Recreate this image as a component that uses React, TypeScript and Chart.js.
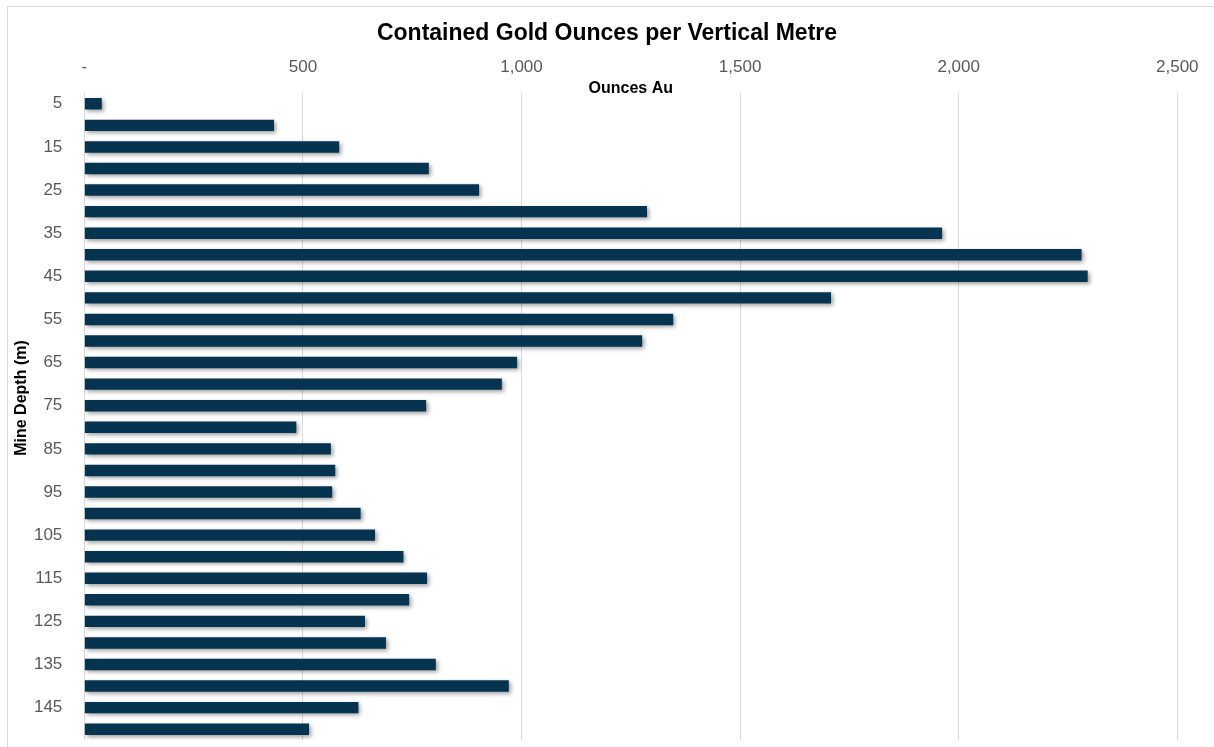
import React, { useEffect, useRef } from 'react';
import { Chart, registerables } from 'chart.js';

Chart.register(...registerables);

const chartTitle = 'Contained Gold Ounces per Vertical Metre';
const xAxisTitle = 'Ounces Au';
const yAxisTitle = 'Mine Depth (m)';

const depthLabels = [
  '5', '10', '15', '20', '25', '30', '35', '40', '45', '50',
  '55', '60', '65', '70', '75', '80', '85', '90', '95', '100',
  '105', '110', '115', '120', '125', '130', '135', '140', '145', '150',
];

const ouncesAu = [
  40, 434, 583, 788, 903, 1287, 1962, 2281, 2295, 1708,
  1347, 1276, 990, 955, 782, 485, 564, 574, 567, 632,
  665, 730, 784, 743, 642, 690, 804, 971, 627, 514,
];

const xMin = 0;
const xMax = 2500;
const xStep = 500;

const BAR_COLOR = '#06334F';
const GRID_COLOR = '#D9D9D9';
const TICK_COLOR = '#595959';
const FONT = "'Liberation Sans', Arial, sans-serif";

const framePlugin = {
  id: 'frame',
  beforeDraw(chart: any) {
    const ctx = chart.ctx;
    ctx.save();
    ctx.fillStyle = '#FFFFFF';
    ctx.fillRect(0, 0, chart.width, chart.height);
    ctx.strokeStyle = GRID_COLOR;
    ctx.lineWidth = 1;
    ctx.strokeRect(7.5, 6.5, chart.width + 20, chart.height + 20);
    ctx.restore();
  },
};

const shadowPlugin = {
  id: 'barShadow',
  beforeDatasetsDraw(chart: any) {
    const ctx = chart.ctx;
    ctx.save();
    ctx.shadowColor = 'rgba(0,0,0,0.38)';
    ctx.shadowBlur = 4;
    ctx.shadowOffsetX = 2;
    ctx.shadowOffsetY = 2;
  },
  afterDatasetsDraw(chart: any) {
    chart.ctx.restore();
  },
};

const yTitlePlugin = {
  id: 'yTitle',
  afterDraw(chart: any) {
    const ctx = chart.ctx;
    ctx.save();
    ctx.translate(22, 398);
    ctx.rotate(-Math.PI / 2);
    ctx.font = `bold 16px ${FONT}`;
    ctx.fillStyle = '#000000';
    ctx.textAlign = 'center';
    ctx.textBaseline = 'middle';
    ctx.fillText(yAxisTitle, 0, 0);
    ctx.restore();
  },
};

export default function App() {
  const canvasRef = useRef<HTMLCanvasElement | null>(null);

  useEffect(() => {
    document.body.style.margin = '0';
    const canvas = canvasRef.current;
    if (!canvas) return;
    const chart = new Chart(canvas, {
      type: 'bar',
      data: {
        labels: depthLabels,
        datasets: [
          {
            data: ouncesAu,
            backgroundColor: BAR_COLOR,
            borderWidth: 0,
            barPercentage: 0.53,
            categoryPercentage: 1,
          },
        ],
      },
      options: {
        indexAxis: 'y',
        responsive: false,
        animation: false,
        devicePixelRatio: 1,
        layout: { padding: { top: 0, left: 0, right: 0, bottom: 7 } },
        plugins: {
          legend: { display: false },
          tooltip: { enabled: false },
          title: {
            display: true,
            text: chartTitle,
            color: '#000000',
            font: { family: FONT, size: 23, weight: 'bold', lineHeight: 1.2 },
            padding: { top: 20, bottom: 0 },
          },
        },
        scales: {
          x: {
            type: 'linear',
            position: 'top',
            weight: 1,
            min: xMin,
            max: xMax,
            ticks: {
              stepSize: xStep,
              color: TICK_COLOR,
              font: { family: FONT, size: 17 },
              padding: 1,
              callback: (v: any) => (Number(v) === 0 ? '-' : Number(v).toLocaleString('en-US')),
            },
            grid: { color: GRID_COLOR, lineWidth: 1, drawTicks: false },
            border: { display: false },
            afterFit: (scale: any) => {
              scale.height = 31.4;
              scale.paddingLeft = 0;
              scale.paddingRight = 0;
            },
          },
          x2: {
            type: 'linear',
            position: 'top',
            weight: 0,
            min: xMin,
            max: xMax,
            ticks: { display: false },
            grid: { display: false, drawTicks: false },
            border: { display: false },
            title: {
              display: true,
              text: xAxisTitle,
              color: '#000000',
              font: { family: FONT, size: 16, weight: 'bold' },
              padding: { top: 0, bottom: 0 },
            },
            afterFit: (scale: any) => {
              scale.height = 14;
              scale.paddingLeft = 0;
              scale.paddingRight = 0;
            },
          },
          y: {
            type: 'category',
            position: 'left',
            grid: { display: false, drawTicks: false },
            border: { display: false },
            ticks: {
              autoSkip: false,
              color: TICK_COLOR,
              font: { family: FONT, size: 17 },
              padding: 22,
              callback: (_v: any, i: number) => (i % 2 === 0 ? depthLabels[i] : ''),
            },
            afterFit: (scale: any) => {
              scale.width = 84.3;
              scale.paddingTop = 0;
              scale.paddingBottom = 0;
            },
          },
          yRightSpacer: {
            type: 'linear',
            position: 'right',
            min: 0,
            max: 1,
            ticks: { display: false },
            grid: { display: false, drawTicks: false },
            border: { display: false },
            afterFit: (scale: any) => {
              scale.width = 36.7;
              scale.paddingTop = 0;
              scale.paddingBottom = 0;
            },
          },
        },
      },
      plugins: [framePlugin, shadowPlugin, yTitlePlugin],
    } as any);
    return () => chart.destroy();
  }, []);

  return (
    <div style={{ width: 1214, height: 747, overflow: 'hidden' }}>
      <canvas ref={canvasRef} width={1214} height={747} style={{ display: 'block' }} />
    </div>
  );
}
